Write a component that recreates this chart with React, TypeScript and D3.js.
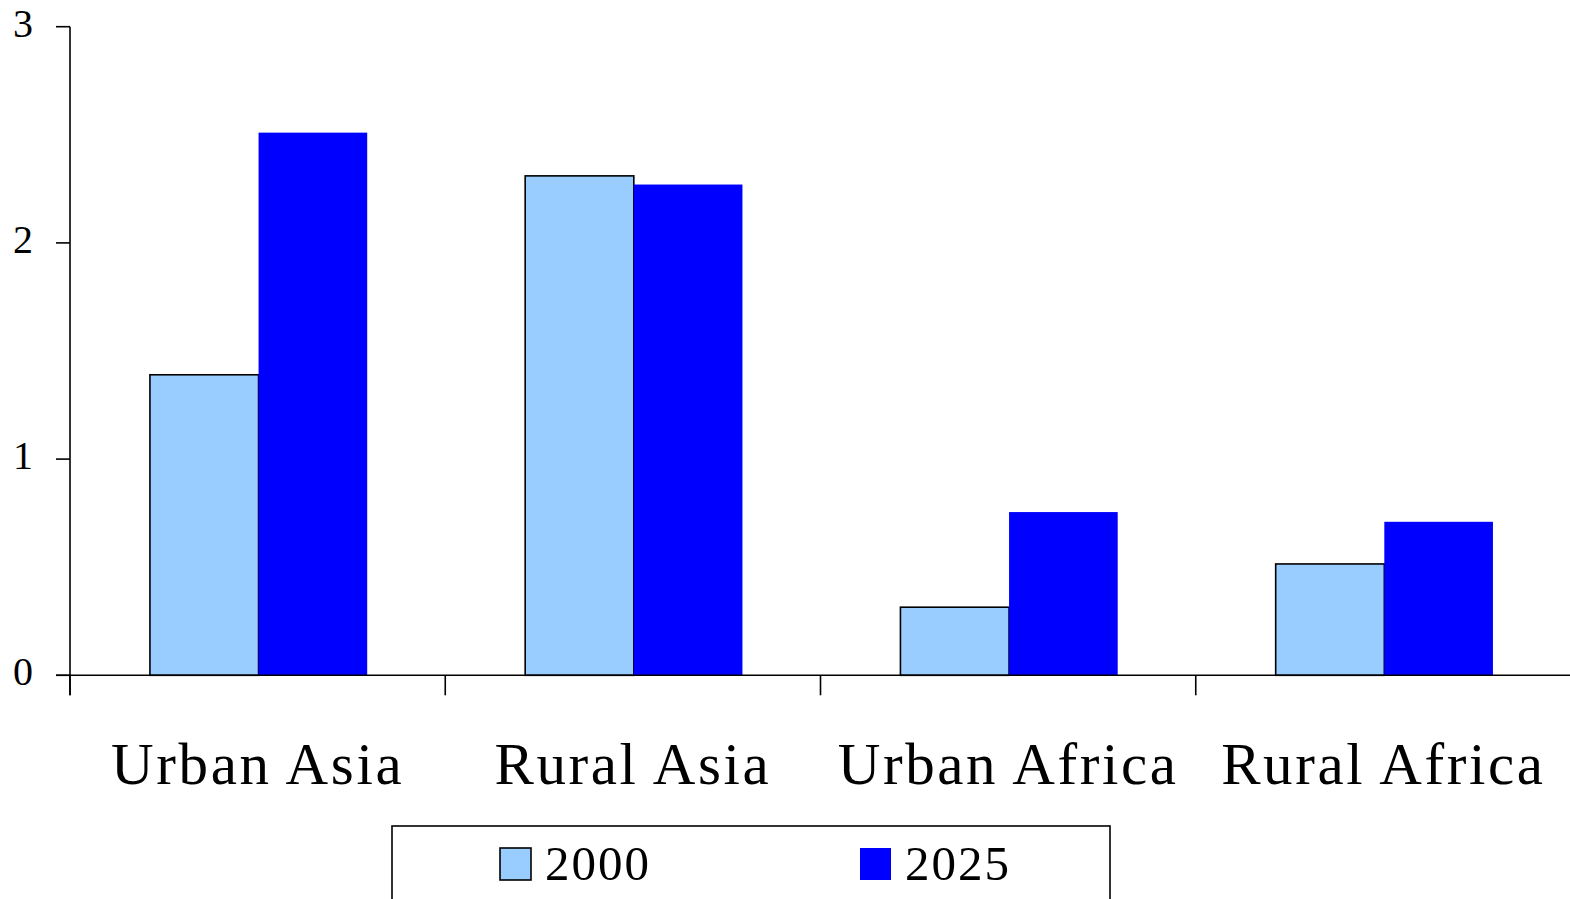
import React from "react";
import * as d3 from "d3";

const categories = ["Urban Asia", "Rural Asia", "Urban Africa", "Rural Africa"];
const seriesNames = ["2000", "2025"];
const values2000 = [1.39, 2.31, 0.315, 0.515];
const values2025 = [2.51, 2.27, 0.755, 0.71];
const yTicks = [0, 1, 2, 3];
const seriesColors = ["#99CCFF", "#0000FF"];

const width = 1570;
const height = 899;
const margin = { top: 26.7, right: -1, bottom: 223.7, left: 70 };
const font = '"Liberation Serif", "Times New Roman", serif';

export default function App() {
  const x0 = d3
    .scaleBand<string>()
    .domain(categories)
    .range([margin.left, width - margin.right])
    .padding(0);
  const bw = x0.bandwidth();
  // the two bars of a group sit in the middle ~58% of each category band
  const x1 = d3
    .scaleBand<string>()
    .domain(seriesNames)
    .range([bw * 0.213, bw * 0.792])
    .padding(0);
  const y = d3
    .scaleLinear()
    .domain([0, 3])
    .range([height - margin.bottom, margin.top]);

  const allSeries = [values2000, values2025];
  const y0 = y(0);
  const xTicks = categories.map((c) => x0(c) as number).concat([width - margin.right]);

  return (
    <svg
      width={width}
      height={height}
      style={{ position: "absolute", left: 0, top: 0, background: "#fff" }}
    >
      {/* bars */}
      {categories.map((c, i) => (
        <g key={c} transform={`translate(${x0(c)},0)`}>
          {seriesNames.map((s, j) => {
            const v = allSeries[j][i];
            return (
              <rect
                key={s}
                x={x1(s)}
                y={y(v)}
                width={x1.bandwidth()}
                height={y0 - y(v)}
                fill={seriesColors[j]}
                stroke={j === 0 ? "#000" : "none"}
                strokeWidth={1.6}
              />
            );
          })}
        </g>
      ))}

      {/* y axis */}
      <line x1={margin.left} x2={margin.left} y1={y(3)} y2={y0 + 20} stroke="#000" strokeWidth={1.6} />
      {yTicks.map((t) => (
        <g key={t}>
          <line x1={margin.left - 14} x2={margin.left} y1={y(t)} y2={y(t)} stroke="#000" strokeWidth={1.6} />
          <text
            x={33}
            y={y(t) + 10}
            textAnchor="end"
            fontFamily={font}
            fontSize={40}
            fill="#000"
          >
            {t}
          </text>
        </g>
      ))}

      {/* x axis */}
      <line x1={margin.left - 14} x2={width} y1={y0} y2={y0} stroke="#000" strokeWidth={1.6} />
      {xTicks.map((t, i) => (
        <line key={i} x1={t} x2={t} y1={y0} y2={y0 + 20} stroke="#000" strokeWidth={1.6} />
      ))}
      {categories.map((c) => (
        <text
          key={c}
          x={(x0(c) as number) + bw / 2}
          y={784}
          textAnchor="middle"
          fontFamily={font}
          fontSize={59}
          letterSpacing={2.6}
          fill="#000"
        >
          {c}
        </text>
      ))}

      {/* legend */}
      <rect x={392} y={826} width={718} height={80} fill="#fff" stroke="#000" strokeWidth={1.6} />
      {seriesNames.map((s, j) => {
        const lx = j === 0 ? 500 : 860;
        return (
          <g key={s}>
            <rect
              x={lx}
              y={848}
              width={31}
              height={32}
              fill={seriesColors[j]}
              stroke={j === 0 ? "#000" : "none"}
              strokeWidth={1.6}
            />
            <text x={lx + 45} y={880} fontFamily={font} fontSize={49} letterSpacing={2} fill="#000">
              {s}
            </text>
          </g>
        );
      })}
    </svg>
  );
}
